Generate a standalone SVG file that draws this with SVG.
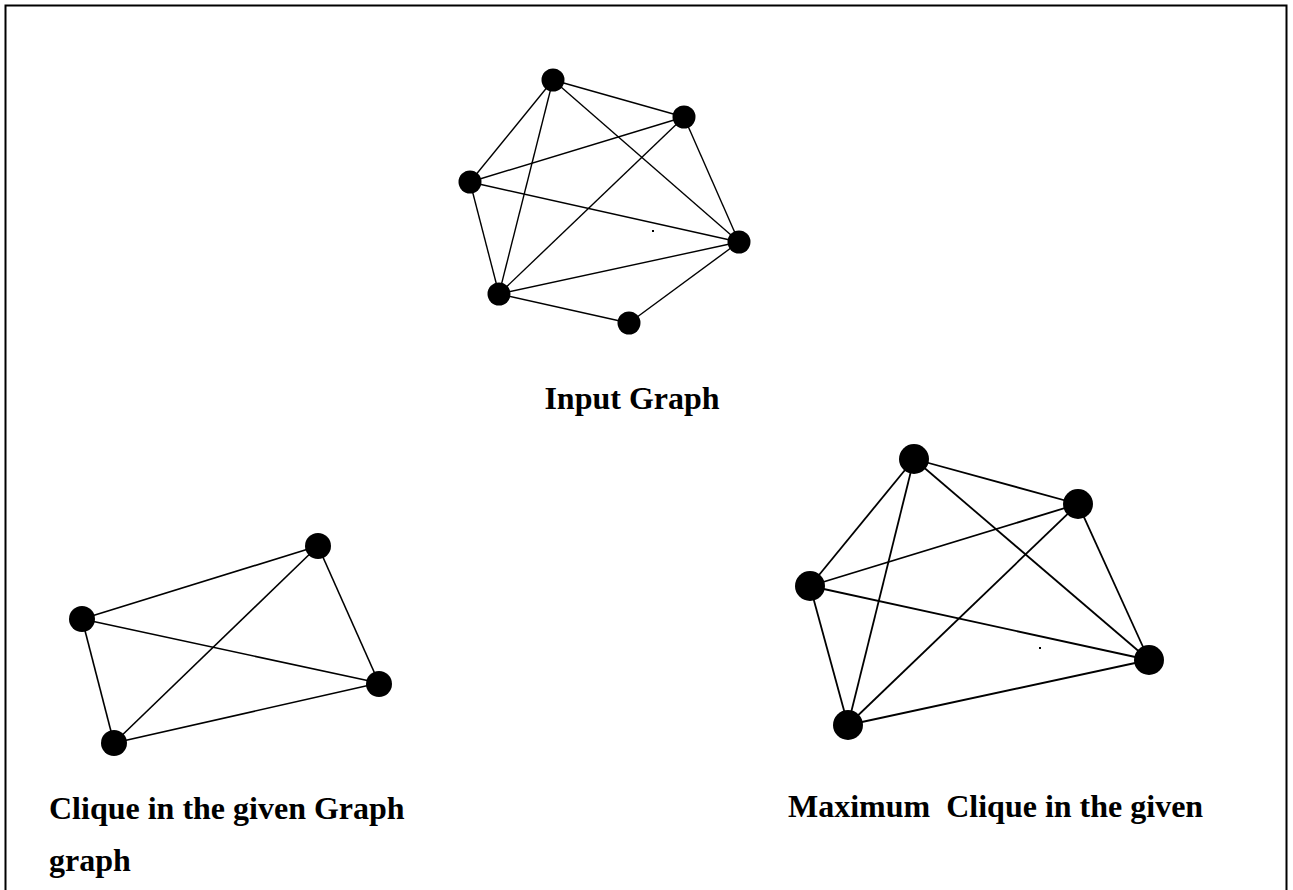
<svg xmlns="http://www.w3.org/2000/svg" width="1293" height="890" viewBox="0 0 1293 890">
<style>
.edge{stroke:#000;fill:none}
.g1 .edge{stroke-width:1.4}
.g2 .edge{stroke-width:1.6}
.g3 .edge{stroke-width:1.8}
.node{fill:#000}
.lbl{font-family:"Liberation Serif","Times New Roman",serif;font-weight:bold;font-size:32px;fill:#000}
</style>
<rect x="0" y="0" width="1293" height="890" fill="#fff"/>
<path d="M5.5,890 V5.5 H1286.5 V890" fill="none" stroke="#000" stroke-width="2"/>

<!-- Input graph -->
<g class="g1">
<g id="connectors-input">
<line class="edge" x1="553" y1="80" x2="684" y2="117"/>
<line class="edge" x1="553" y1="80" x2="470" y2="182"/>
<line class="edge" x1="553" y1="80" x2="499" y2="294"/>
<line class="edge" x1="553" y1="80" x2="739" y2="242"/>
<line class="edge" x1="684" y1="117" x2="470" y2="182"/>
<line class="edge" x1="684" y1="117" x2="499" y2="294"/>
<line class="edge" x1="684" y1="117" x2="739" y2="242"/>
<line class="edge" x1="470" y1="182" x2="739" y2="242"/>
<line class="edge" x1="470" y1="182" x2="499" y2="294"/>
<line class="edge" x1="499" y1="294" x2="739" y2="242"/>
<line class="edge" x1="499" y1="294" x2="629" y2="323"/>
<line class="edge" x1="629" y1="323" x2="739" y2="242"/>
</g>
<g id="in-n1"><circle class="node" cx="553" cy="80" r="11.5"/></g>
<g id="in-n2"><circle class="node" cx="684" cy="117" r="11.5"/></g>
<g id="in-n3"><circle class="node" cx="470" cy="182" r="11.5"/></g>
<g id="in-n4"><circle class="node" cx="739" cy="242" r="11.5"/></g>
<g id="in-n5"><circle class="node" cx="499" cy="294" r="11.5"/></g>
<g id="in-n6"><circle class="node" cx="629" cy="323" r="11.5"/></g>
<rect x="652" y="230" width="2" height="2" fill="#000"/>
</g>
<text class="lbl" x="632" y="409" text-anchor="middle">Input Graph</text>

<!-- Clique graph -->
<g class="g2">
<g id="connectors-clique">
<line class="edge" x1="82" y1="619" x2="318" y2="546"/>
<line class="edge" x1="318" y1="546" x2="379" y2="683"/>
<line class="edge" x1="318" y1="546" x2="114" y2="743"/>
<line class="edge" x1="82" y1="619" x2="379" y2="683"/>
<line class="edge" x1="82" y1="619" x2="114" y2="743"/>
<line class="edge" x1="114" y1="743" x2="379" y2="683"/>
</g>
<g id="cl-a"><circle class="node" cx="318" cy="546" r="13"/></g>
<g id="cl-b"><circle class="node" cx="82" cy="619" r="13"/></g>
<g id="cl-c"><circle class="node" cx="379" cy="684" r="13"/></g>
<g id="cl-d"><circle class="node" cx="114" cy="743" r="13"/></g>
</g>
<text class="lbl" x="49" y="819">Clique in the given Graph</text>
<text class="lbl" x="49" y="871">graph</text>

<!-- Maximum clique graph -->
<g class="g3">
<g id="connectors-max">
<line class="edge" x1="914" y1="459" x2="1078" y2="504"/>
<line class="edge" x1="914" y1="459" x2="810" y2="586"/>
<line class="edge" x1="914" y1="459" x2="848" y2="725"/>
<line class="edge" x1="914" y1="459" x2="1149" y2="660"/>
<line class="edge" x1="1078" y1="504" x2="810" y2="586"/>
<line class="edge" x1="1078" y1="504" x2="848" y2="725"/>
<line class="edge" x1="1078" y1="504" x2="1149" y2="660"/>
<line class="edge" x1="810" y1="586" x2="1149" y2="660"/>
<line class="edge" x1="810" y1="586" x2="848" y2="725"/>
<line class="edge" x1="848" y1="725" x2="1149" y2="660"/>
</g>
<g id="mx-1"><circle class="node" cx="914" cy="459" r="15"/></g>
<g id="mx-2"><circle class="node" cx="1078" cy="504" r="15"/></g>
<g id="mx-3"><circle class="node" cx="810" cy="586" r="15"/></g>
<g id="mx-4"><circle class="node" cx="1149" cy="660" r="15"/></g>
<g id="mx-5"><circle class="node" cx="848" cy="725" r="15"/></g>
<rect x="1039" y="647" width="2" height="2" fill="#000"/>
</g>
<text class="lbl" x="788" y="817" xml:space="preserve">Maximum  Clique in the given</text>
</svg>
